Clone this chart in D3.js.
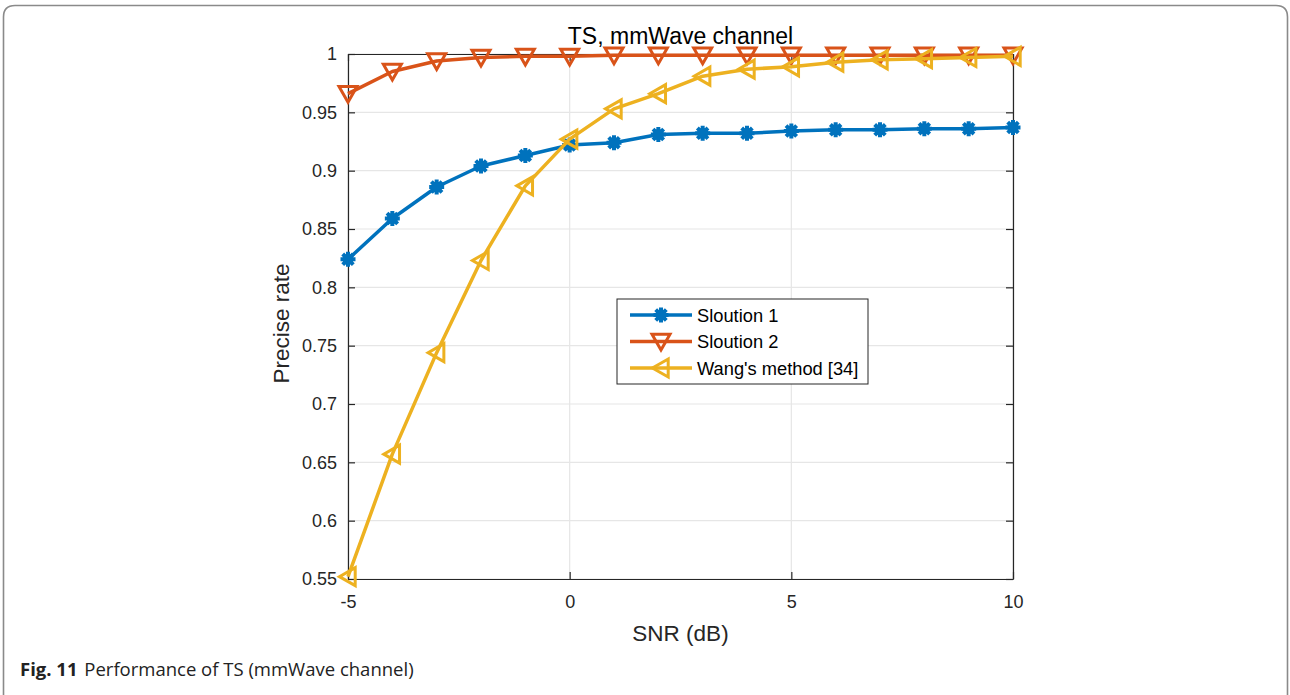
<!DOCTYPE html>
<html>
<head>
<meta charset="utf-8">
<script src="https://cdn.jsdelivr.net/npm/d3@7"></script>
<style>
  html, body { margin: 0; padding: 0; background: #fff; }
  svg { display: block; }
</style>
</head>
<body>
<svg id="chart" width="1290" height="695"></svg>
<script>
// SNR sweep (dB)
const snr = [-5, -4, -3, -2, -1, 0, 1, 2, 3, 4, 5, 6, 7, 8, 9, 10];

// Precise rate per method
const solution1 = [0.824, 0.859, 0.886, 0.904, 0.913, 0.922, 0.924, 0.931, 0.932, 0.932, 0.934, 0.935, 0.935, 0.936, 0.936, 0.937];
const solution2 = [0.966, 0.985, 0.994, 0.997, 0.998, 0.998, 0.999, 0.999, 0.999, 0.999, 0.999, 0.999, 0.999, 0.999, 0.999, 0.999];
const wang      = [0.552, 0.657, 0.744, 0.823, 0.887, 0.927, 0.953, 0.966, 0.981, 0.987, 0.989, 0.993, 0.995, 0.996, 0.997, 0.998];

const seriesNames = ["Sloution 1", "Sloution 2", "Wang's method [34]"];
const xTicks = [-5, 0, 5, 10];
const yTicks = [0.55, 0.6, 0.65, 0.7, 0.75, 0.8, 0.85, 0.9, 0.95, 1];

const titleText = "TS, mmWave channel";
const xLabel = "SNR (dB)";
const yLabel = "Precise rate";

const svg = d3.select("#chart");
const W = 1290, H = 695;
const plot = { left: 348, right: 1013, top: 54, bottom: 579 };

// Figure frame with rounded top corners, open at the bottom
svg.append("path")
  .attr("d", `M3.5,${H + 2} L3.5,17 Q3.5,5.5 15,5.5 L1276,5.5 Q1287.5,5.5 1287.5,17 L1287.5,${H + 2}`)
  .attr("fill", "none").attr("stroke", "#8a8a8a").attr("stroke-width", 1.6);

const x = d3.scaleLinear().domain([-5, 10]).range([plot.left, plot.right]);
const y = d3.scaleLinear().domain([0.55, 1]).range([plot.bottom, plot.top]);

const font = "'Liberation Sans', Arial, Helvetica, sans-serif";
const axisColor = "#262626";

// Grid
const g = svg.append("g");
g.append("g").selectAll("line").data(xTicks).join("line")
  .attr("x1", d => x(d)).attr("x2", d => x(d))
  .attr("y1", plot.top).attr("y2", plot.bottom)
  .attr("stroke", "#e6e6e6").attr("stroke-width", 1.2);
g.append("g").selectAll("line").data(yTicks).join("line")
  .attr("x1", plot.left).attr("x2", plot.right)
  .attr("y1", d => y(d)).attr("y2", d => y(d))
  .attr("stroke", "#e6e6e6").attr("stroke-width", 1.2);

// Axes (ticks pointing inward, box on all four sides)
const tickLen = 7;
const xAxisB = d3.axisBottom(x).tickValues(xTicks).tickSize(-tickLen).tickSizeOuter(0).tickPadding(16).tickFormat(d => String(d));
const xAxisT = d3.axisTop(x).tickValues(xTicks).tickSize(-tickLen).tickSizeOuter(0).tickFormat("");
const yAxisL = d3.axisLeft(y).tickValues(yTicks).tickSize(-tickLen).tickSizeOuter(0).tickPadding(11).tickFormat(d => d === 1 ? "1" : d3.format(".2~f")(d));
const yAxisR = d3.axisRight(y).tickValues(yTicks).tickSize(-tickLen).tickSizeOuter(0).tickFormat("");

function styleAxis(sel) {
  sel.select(".domain").attr("stroke", axisColor).attr("stroke-width", 1.2);
  sel.selectAll(".tick line").attr("stroke", axisColor).attr("stroke-width", 1.2);
  sel.selectAll(".tick text").attr("fill", "#262626").style("font-family", font).style("font-size", "18px");
}
svg.append("g").attr("transform", `translate(0,${plot.bottom})`).call(xAxisB).call(styleAxis);
svg.append("g").attr("transform", `translate(0,${plot.top})`).call(xAxisT).call(styleAxis);
svg.append("g").attr("transform", `translate(${plot.left},0)`).call(yAxisL).call(styleAxis);
svg.append("g").attr("transform", `translate(${plot.right},0)`).call(yAxisR).call(styleAxis);

// Titles
svg.append("text").attr("x", (plot.left + plot.right) / 2).attr("y", 44)
  .attr("text-anchor", "middle").attr("fill", "#000")
  .style("font-family", font).style("font-size", "23px").text(titleText);
svg.append("text").attr("x", (plot.left + plot.right) / 2).attr("y", 641)
  .attr("text-anchor", "middle").attr("fill", "#262626")
  .style("font-family", font).style("font-size", "22.5px").text(xLabel);
svg.append("text").attr("transform", `translate(289,${(plot.top + plot.bottom) / 2 + 7}) rotate(-90)`)
  .attr("text-anchor", "middle").attr("fill", "#262626")
  .style("font-family", font).style("font-size", "22.5px").text(yLabel);

// Marker shapes
const colors = ["#0072BD", "#D95319", "#EDB120"];
function drawMarker(sel, kind, color) {
  if (kind === 0) {
    // asterisk
    const r = 7.5;
    const p = [];
    for (let a = 0; a < 4; a++) {
      const ang = a * Math.PI / 4;
      p.push(`M${-r * Math.cos(ang)},${-r * Math.sin(ang)}L${r * Math.cos(ang)},${r * Math.sin(ang)}`);
    }
    sel.append("path").attr("d", p.join(""))
      .attr("stroke", color).attr("stroke-width", 4).attr("fill", "none");
    sel.append("circle").attr("r", 5.5).attr("fill", color);
  } else if (kind === 1) {
    // down triangle
    const s = 9;
    sel.append("path").attr("d", `M${-s},${-s * 0.8}L${s},${-s * 0.8}L0,${s * 0.95}Z`)
      .attr("fill", "none").attr("stroke", color).attr("stroke-width", 3).attr("stroke-linejoin", "miter");
  } else {
    // left triangle
    const s = 9;
    sel.append("path").attr("d", `M${s * 0.8},${-s}L${s * 0.8},${s}L${-s * 0.95},0Z`)
      .attr("fill", "none").attr("stroke", color).attr("stroke-width", 3).attr("stroke-linejoin", "miter");
  }
}

const allSeries = [solution1, solution2, wang];
const line = d3.line().x((d, i) => x(snr[i])).y(d => y(d));

allSeries.forEach((vals, k) => {
  const gs = svg.append("g");
  gs.append("path").datum(vals).attr("d", line)
    .attr("fill", "none").attr("stroke", colors[k]).attr("stroke-width", 3.5)
    .attr("stroke-linejoin", "round");
  vals.forEach((v, i) => {
    const m = gs.append("g").attr("transform", `translate(${x(snr[i])},${y(v)})`);
    drawMarker(m, k, colors[k]);
  });
});

// Legend
const lg = svg.append("g").attr("transform", "translate(617,299)");
lg.append("rect").attr("x", 0).attr("y", 0).attr("width", 251).attr("height", 85)
  .attr("fill", "#fff").attr("stroke", "#262626").attr("stroke-width", 1);
seriesNames.forEach((name, k) => {
  const yy = 16 + k * 26.5;
  lg.append("line").attr("x1", 13).attr("x2", 75).attr("y1", yy).attr("y2", yy)
    .attr("stroke", colors[k]).attr("stroke-width", 3.5);
  const m = lg.append("g").attr("transform", `translate(44,${yy})`);
  drawMarker(m, k, colors[k]);
  lg.append("text").attr("x", 80).attr("y", yy + 6.5).attr("fill", "#000")
    .style("font-family", font).style("font-size", "18.3px").text(name);
});

// Caption
const cap = svg.append("text").attr("x", 20).attr("y", 676)
  .style("font-family", "'Open Sans', 'Noto Sans', sans-serif").style("font-size", "18.5px").attr("fill", "#222");
cap.append("tspan").style("font-weight", "bold").text("Fig. 11");
cap.append("tspan").attr("dx", 2).text(" Performance of TS (mmWave channel)");
</script>
</body>
</html>
